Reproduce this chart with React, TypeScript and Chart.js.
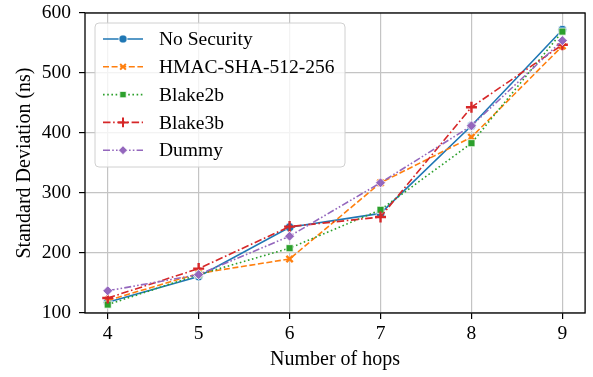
import React, { useEffect, useRef } from "react";
import { Chart, registerables } from "chart.js";
import { drawPoint } from "chart.js/helpers";

Chart.register(...registerables);

const hops = [4, 5, 6, 7, 8, 9];
const yTicks = [100, 200, 300, 400, 500, 600];
const noSecurity = [118, 161, 243, 266, 412, 572];
const hmac = [121, 166, 190, 317, 393, 545];
const blake2b = [114, 164, 208, 272, 383, 569];
const blake3b = [125, 174, 244, 260, 443, 547];
const dummy = [137, 164, 228, 317, 412, 554];

const seriesNames = ["No Security", "HMAC-SHA-512-256", "Blake2b", "Blake3b", "Dummy"];
const seriesValues = [noSecurity, hmac, blake2b, blake3b, dummy];
const colors = ["#1f77b4", "#ff7f0e", "#2ca02c", "#d62728", "#9467bd"];
const dashes = [[], [6, 2.6], [1.6, 2.6], [7.5, 2.6, 1.6, 2.6], [7, 2.2, 1.6, 2.2, 1.6, 2.2]];
const pointStyles = ["circle", "crossRot", "rect", "cross", "rectRot"];
const pointRadii = [4.5, 4.5, 5, 5.5, 5];

const FONT = "'Liberation Serif', 'Times New Roman', serif";

const framePlugin = {
  id: "frameAndLegend",
  afterDatasetsDraw(chart: any) {
    const { ctx, chartArea } = chart;
    ctx.save();
    ctx.strokeStyle = "#000";
    ctx.lineWidth = 1.3;
    ctx.setLineDash([]);
    ctx.strokeRect(chartArea.left, chartArea.top, chartArea.right - chartArea.left, chartArea.bottom - chartArea.top);

    const bx = chartArea.left + 10;
    const by = chartArea.top + 10;
    const bw = 250;
    const bh = 144;
    const r = 4;
    ctx.beginPath();
    ctx.moveTo(bx + r, by);
    ctx.lineTo(bx + bw - r, by);
    ctx.arcTo(bx + bw, by, bx + bw, by + r, r);
    ctx.lineTo(bx + bw, by + bh - r);
    ctx.arcTo(bx + bw, by + bh, bx + bw - r, by + bh, r);
    ctx.lineTo(bx + r, by + bh);
    ctx.arcTo(bx, by + bh, bx, by + bh - r, r);
    ctx.lineTo(bx, by + r);
    ctx.arcTo(bx, by, bx + r, by, r);
    ctx.closePath();
    ctx.fillStyle = "rgba(255,255,255,0.8)";
    ctx.fill();
    ctx.strokeStyle = "#d0d0d0";
    ctx.lineWidth = 1;
    ctx.stroke();

    ctx.font = `19.5px ${FONT}`;
    ctx.textBaseline = "middle";
    ctx.textAlign = "left";
    for (let i = 0; i < seriesNames.length; i++) {
      const y = by + 16 + i * 27.8;
      ctx.strokeStyle = colors[i];
      ctx.lineWidth = 1.6;
      ctx.setLineDash(dashes[i]);
      ctx.beginPath();
      ctx.moveTo(bx + 8, y);
      ctx.lineTo(bx + 48, y);
      ctx.stroke();
      ctx.setLineDash([]);
      const isCross = pointStyles[i] === "cross" || pointStyles[i] === "crossRot";
      ctx.fillStyle = colors[i];
      ctx.strokeStyle = isCross ? colors[i] : "#ffffff";
      ctx.lineWidth = isCross ? 2 : 0.8;
      drawPoint(ctx, { pointStyle: pointStyles[i], radius: pointRadii[i] * 0.9, rotation: 0, borderWidth: ctx.lineWidth }, bx + 28, y);
      ctx.fillStyle = "#000";
      ctx.fillText(seriesNames[i], bx + 64, y + 1);
    }
    ctx.restore();
  },
};

export default function App() {
  const ref = useRef<HTMLCanvasElement | null>(null);
  useEffect(() => {
    document.body.style.margin = "0";
    const canvas = ref.current!;
    const datasets = seriesNames.map((name, i) => {
      const isCross = pointStyles[i] === "cross" || pointStyles[i] === "crossRot";
      return {
        label: name,
        data: hops.map((h, j) => ({ x: h, y: seriesValues[i][j] })),
        borderColor: colors[i],
        backgroundColor: colors[i],
        borderWidth: 1.6,
        borderDash: dashes[i],
        pointStyle: pointStyles[i],
        pointRadius: pointRadii[i],
        pointBorderColor: isCross ? colors[i] : "#ffffff",
        pointBackgroundColor: colors[i],
        pointBorderWidth: isCross ? 2.4 : 0.8,
        tension: 0,
        order: seriesNames.length - i,
      };
    });
    const chart = new Chart(canvas, {
      type: "line",
      data: { datasets },
      options: {
        animation: false,
        responsive: false,
        devicePixelRatio: 1,
        layout: { padding: { top: 13, right: 6, left: 0, bottom: 0 } },
        plugins: { legend: { display: false }, tooltip: { enabled: false } },
        scales: {
          x: {
            type: "linear",
            min: 3.75,
            max: 9.25,
            afterBuildTicks: (s: any) => {
              s.ticks = hops.map((v) => ({ value: v }));
            },
            afterFit: (s: any) => {
              s.height = 64;
              s.paddingLeft = 0;
              s.paddingRight = 0;
            },
            grid: { color: "#c4c4c4", lineWidth: 1.2, tickColor: "#000", tickLength: 6, drawTicks: true },
            border: { display: false },
            ticks: {
              color: "#000",
              font: { family: FONT, size: 19.5 },
              padding: 3,
              callback: (v: any) => String(v),
            },
            title: {
              display: true,
              text: "Number of hops",
              color: "#000",
              font: { family: FONT, size: 20 },
              padding: { top: 0, bottom: 5 },
            },
          },
          y: {
            type: "linear",
            min: 100,
            max: 600,
            afterBuildTicks: (s: any) => {
              s.ticks = yTicks.map((v) => ({ value: v }));
            },
            afterFit: (s: any) => {
              s.width = 85;
              s.paddingTop = 0;
              s.paddingBottom = 0;
            },
            grid: { color: "#c4c4c4", lineWidth: 1.2, tickColor: "#000", tickLength: 6, drawTicks: true },
            border: { display: false },
            ticks: {
              color: "#000",
              font: { family: FONT, size: 19.5 },
              padding: 8,
              callback: (v: any) => String(v),
            },
            title: {
              display: true,
              text: "Standard Deviation (ns)",
              color: "#000",
              font: { family: FONT, size: 20 },
              padding: { top: 13, bottom: 0 },
            },
          },
        },
      },
      plugins: [framePlugin],
    } as any);
    return () => chart.destroy();
  }, []);
  return (
    <div style={{ width: 593, height: 377 }}>
      <canvas ref={ref} width={593} height={377} style={{ display: "block" }} />
    </div>
  );
}
